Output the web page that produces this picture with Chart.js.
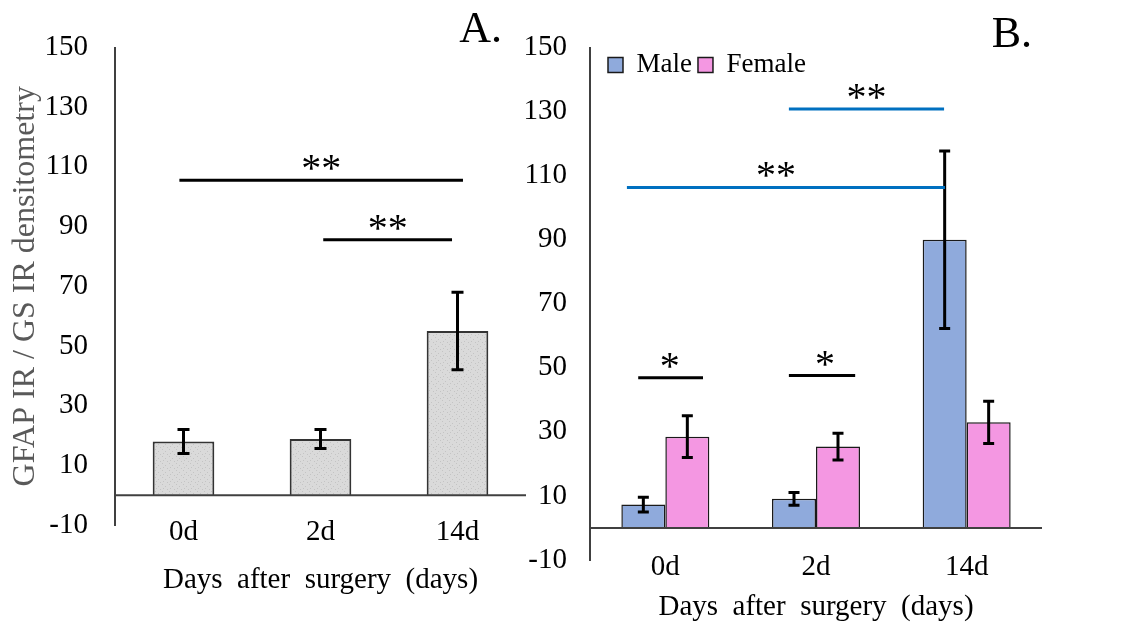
<!DOCTYPE html>
<html>
<head>
<meta charset="utf-8">
<script src="https://cdn.jsdelivr.net/npm/chart.js@4.4.1/dist/chart.umd.min.js"></script>
<style>
  html, body { margin: 0; padding: 0; background: #fff; }
  body { width: 1133px; height: 627px; position: relative; overflow: hidden; }
  canvas { position: absolute; top: 0; }
  #chartA { left: 0; }
  #chartB { left: 520px; }
</style>
</head>
<body>
<canvas id="chartA" width="540" height="627"></canvas>
<canvas id="chartB" width="613" height="627"></canvas>
<script>
// --- Data ---
const days = ['0d', '2d', '14d'];
const yTicks = [-10, 10, 30, 50, 70, 90, 110, 130, 150];

// Panel A: all animals
const allMean = [18, 18.8, 55];
const allErr = [4, 3.2, 13];

// Panel B: split by sex
const maleMean = [7.3, 9.1, 90];
const maleErr = [2.3, 2, 27.7];
const femaleMean = [28.5, 25.4, 33];
const femaleErr = [6.5, 4.2, 6.6];

// significance bars (from / to / at in category units, y in data units)
const sigA = [
  { from: -0.03, to: 2.04, y: 105.5, text: '**' },
  { from: 1.02, to: 1.96, y: 85.6, text: '**' }
];
const sigB = [
  { from: 0.82, to: 1.85, y: 130.8, text: '**', blue: true },
  { from: -0.255, to: 1.856, y: 106.3, text: '**', at: 0.735, blue: true },
  { from: -0.18, to: 0.25, y: 46.9, text: '*', at: 0.03 },
  { from: 0.82, to: 1.26, y: 47.6, text: '*', at: 1.06 }
];

const serif = "'Liberation Serif', 'Times New Roman', serif";
const axisGrey = '#404040';

// --- Helpers ---

// light grey stipple used by the panel A bars
function makeStipple(canvas) {
  const c = document.createElement('canvas');
  c.width = 7; c.height = 7;
  const g = c.getContext('2d');
  g.fillStyle = '#dadada';
  g.fillRect(0, 0, 7, 7);
  g.fillStyle = '#c4c4c4';
  [[1, 1], [4, 3], [2, 5], [6, 6]].forEach(p => g.fillRect(p[0], p[1], 1, 1));
  return canvas.getContext('2d').createPattern(c, 'repeat');
}

// error bars, zero line, significance bars and panel letter
function makeExtras(cfg) {
  return {
    id: 'extras',
    afterDatasetsDraw(chart) {
      const ctx = chart.ctx;
      const x = chart.scales.x, y = chart.scales.y;
      const area = chart.chartArea;
      ctx.save();

      // horizontal axis at zero
      const y0 = y.getPixelForValue(0);
      ctx.strokeStyle = axisGrey;
      ctx.lineWidth = 2;
      ctx.beginPath();
      ctx.moveTo(area.left, y0);
      ctx.lineTo(area.right, y0);
      ctx.stroke();

      // error bars
      ctx.strokeStyle = '#000';
      ctx.lineWidth = 3;
      cfg.errors.forEach((errArr, di) => {
        const meta = chart.getDatasetMeta(di);
        meta.data.forEach((bar, i) => {
          const v = chart.data.datasets[di].data[i];
          const top = y.getPixelForValue(v + errArr[i]);
          const bot = y.getPixelForValue(v - errArr[i]);
          const half = cfg.cap / 2;
          ctx.beginPath();
          ctx.moveTo(bar.x, top); ctx.lineTo(bar.x, bot);
          ctx.moveTo(bar.x - half, top); ctx.lineTo(bar.x + half, top);
          ctx.moveTo(bar.x - half, bot); ctx.lineTo(bar.x + half, bot);
          ctx.stroke();
        });
      });

      // significance bars
      cfg.sig.forEach(s => {
        const x1 = x.getPixelForValue(s.from);
        const x2 = x.getPixelForValue(s.to);
        const yy = y.getPixelForValue(s.y);
        ctx.strokeStyle = s.blue ? '#0070c0' : '#000';
        ctx.lineWidth = 3;
        ctx.beginPath();
        ctx.moveTo(x1, yy);
        ctx.lineTo(x2, yy);
        ctx.stroke();
        const tx = typeof s.at === 'number' ? x.getPixelForValue(s.at) : (x1 + x2) / 2;
        ctx.fillStyle = '#000';
        ctx.font = '40px ' + serif;
        ctx.textAlign = 'center';
        ctx.textBaseline = 'alphabetic';
        ctx.fillText(s.text, tx, yy + 1);
      });

      // panel letter
      ctx.fillStyle = '#000';
      ctx.font = '44px ' + serif;
      ctx.textAlign = 'right';
      ctx.textBaseline = 'alphabetic';
      ctx.fillText(cfg.letter, area.right + cfg.letterDx, cfg.letterBase);

      ctx.restore();
    }
  };
}

// nudge the legend to where Excel put it (inside the plot, top left)
const legendSpot = {
  id: 'legendSpot',
  afterLayout(chart) {
    const lg = chart.legend;
    if (!lg) return;
    const pad = lg.options.labels.padding;
    lg.left = chart.chartArea.left + 18 - pad;
    lg.top = chart.chartArea.top + 4 - pad;
    lg.right = lg.left + lg.width;
    lg.bottom = lg.top + lg.height;
  }
};

function xAxis(height, titleBottom) {
  return {
    grid: { display: false, drawTicks: false },
    border: { display: false },
    ticks: { color: '#000', padding: -10, font: { family: serif, size: 29 } },
    title: {
      display: true,
      text: 'Days  after  surgery  (days)',
      color: '#000',
      font: { family: serif, size: 29 },
      padding: { top: 0, bottom: titleBottom }
    },
    afterFit: s => {
      s.height = height;
      // labels sit slightly over the axis box, so do not clip them
      s._computeLabelArea = () => undefined;
    }
  };
}

function yAxis(width, pad) {
  return {
    min: yTicks[0],
    max: yTicks[yTicks.length - 1],
    afterBuildTicks: s => { s.ticks = yTicks.map(v => ({ value: v })); },
    ticks: { padding: pad, color: '#000', font: { family: serif, size: 29 } },
    grid: { display: false, drawTicks: false },
    border: { display: true, color: axisGrey, width: 2 },
    afterFit: s => { s.width = width; }
  };
}

// --- Panel A ---
const canvasA = document.getElementById('chartA');
const yA = yAxis(115, 27);
yA.title = {
  display: true,
  text: 'GFAP IR / GS IR densitometry',
  color: '#595959',
  font: { family: serif, size: 32 },
  padding: { top: 6, bottom: 0 }
};

new Chart(canvasA, {
  type: 'bar',
  data: {
    labels: days,
    datasets: [{
      label: 'All',
      data: allMean,
      backgroundColor: makeStipple(canvasA),
      borderColor: '#333',
      borderWidth: 2,
      categoryPercentage: 1,
      barPercentage: 0.45
    }]
  },
  options: {
    responsive: false,
    animation: false,
    layout: { padding: { top: 47.5, right: 14, bottom: 0, left: 0 } },
    scales: { x: xAxis(102, 29.6), y: yA },
    plugins: {
      legend: { display: false },
      tooltip: { enabled: false }
    }
  },
  plugins: [makeExtras({ errors: [allErr], cap: 12, sig: sigA, letter: 'A.', letterDx: -24, letterBase: 42 })]
});

// --- Panel B ---
const canvasB = document.getElementById('chartB');

new Chart(canvasB, {
  type: 'bar',
  data: {
    labels: days,
    datasets: [
      {
        label: 'Male',
        data: maleMean,
        backgroundColor: '#8faadc',
        borderColor: '#1a1a1a',
        borderWidth: 1.5,
        categoryPercentage: 0.584,
        barPercentage: 1
      },
      {
        label: 'Female',
        data: femaleMean,
        backgroundColor: '#f497e2',
        borderColor: '#1a1a1a',
        borderWidth: 1.5,
        categoryPercentage: 0.584,
        barPercentage: 1
      }
    ]
  },
  options: {
    responsive: false,
    animation: false,
    layout: { padding: { top: 4.5, right: 91, bottom: 0, left: 0 } },
    scales: { x: xAxis(67, 2.6), y: yAxis(70, 23) },
    plugins: {
      legend: {
        position: 'top',
        align: 'start',
        labels: {
          boxWidth: 15,
          boxHeight: 15,
          padding: 6,
          color: '#000',
          font: { family: serif, size: 27 }
        }
      },
      tooltip: { enabled: false }
    }
  },
  plugins: [makeExtras({ errors: [maleErr, femaleErr], cap: 11, sig: sigB, letter: 'B.', letterDx: -10, letterBase: 47 }), legendSpot]
});
</script>
</body>
</html>
